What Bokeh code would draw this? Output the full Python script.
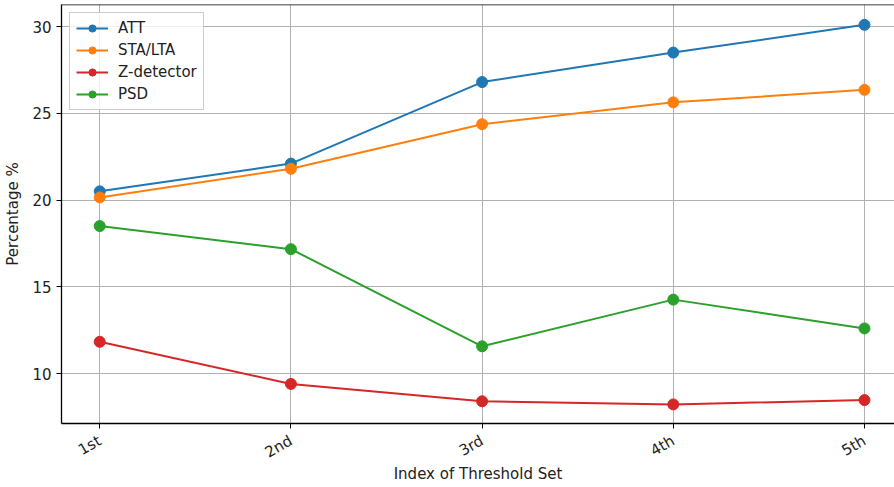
import math
from bokeh.plotting import figure
from bokeh.models import FixedTicker, Legend, LegendItem, Span, Range1d
from bokeh.embed import file_html
from bokeh.resources import INLINE

categories = ["1st", "2nd", "3rd", "4th", "5th"]
idx = [1, 2, 3, 4, 5]
att = [20.5, 22.1, 26.8, 28.5, 30.1]
sta_lta = [20.15, 21.8, 24.37, 25.63, 26.35]
z_detector = [11.83, 9.4, 8.4, 8.22, 8.47]
psd = [18.5, 17.17, 11.57, 14.26, 12.6]

series = [("ATT", att, "#1f77b4"), ("STA/LTA", sta_lta, "#ff7f0e"),
          ("Z-detector", z_detector, "#d62728"), ("PSD", psd, "#2ca02c")]

FONT = "DejaVu Sans"
Y0, Y1 = 7.12, 31.27
p = figure(width=894, height=487, output_backend="svg", toolbar_location=None,
           x_range=Range1d(0.8, 5.157), y_range=Range1d(Y0, Y1))
p.min_border_left = 61
p.min_border_right = 0
p.min_border_top = 4
p.min_border_bottom = 64
p.outline_line_color = None
p.background_fill_color = "white"
p.border_fill_color = "white"

items = []
for name, vals, col in series:
    l = p.line(idx, vals, line_color=col, line_width=2)
    c = p.scatter(idx, vals, size=11, fill_color=col, line_color=col)
    items.append(LegendItem(label=name, renderers=[l, c]))

p.add_layout(Span(location=Y1, dimension="width", line_color="black", line_width=1.3))

p.xaxis.ticker = FixedTicker(ticks=idx)
p.xaxis.major_label_overrides = {i: c for i, c in zip(idx, categories)}
p.xaxis.major_label_orientation = math.radians(30)
p.xaxis.major_label_standoff = 11
p.yaxis.ticker = FixedTicker(ticks=[10, 15, 20, 25, 30])
for ax in (p.xaxis, p.yaxis):
    ax.minor_tick_line_color = None
    ax.major_tick_out = 5
    ax.major_tick_in = 0
    ax.axis_line_color = "black"
    ax.axis_line_width = 1.3
    ax.major_tick_line_color = "black"
    ax.major_label_text_font = FONT
    ax.major_label_text_font_size = "15px"
    ax.major_label_text_color = "#222222"
    ax.axis_label_text_font = FONT
    ax.axis_label_text_font_size = "15px"
    ax.axis_label_text_font_style = "normal"
    ax.axis_label_text_color = "#222222"
p.xaxis.axis_label = "Index of Threshold Set"
p.yaxis.axis_label = "Percentage %"
p.xaxis.axis_label_standoff = -7
p.yaxis.axis_label_standoff = 7

p.grid.grid_line_color = "#b0b0b0"
p.grid.grid_line_width = 1
p.xgrid.ticker = FixedTicker(ticks=idx)
p.ygrid.ticker = FixedTicker(ticks=[10, 15, 20, 25, 30])

legend = Legend(items=items, location="top_left")
legend.label_text_font = FONT
legend.label_text_font_size = "15px"
legend.label_text_color = "#222222"
legend.border_line_color = "#cccccc"
legend.border_line_alpha = 1
legend.background_fill_alpha = 0.8
legend.glyph_width = 32
legend.glyph_height = 18
legend.label_standoff = 10
legend.spacing = 4
legend.padding = 6
legend.margin = 8
legend.label_height = 18
p.add_layout(legend)

open("out.html", "w").write(file_html(p, INLINE))
